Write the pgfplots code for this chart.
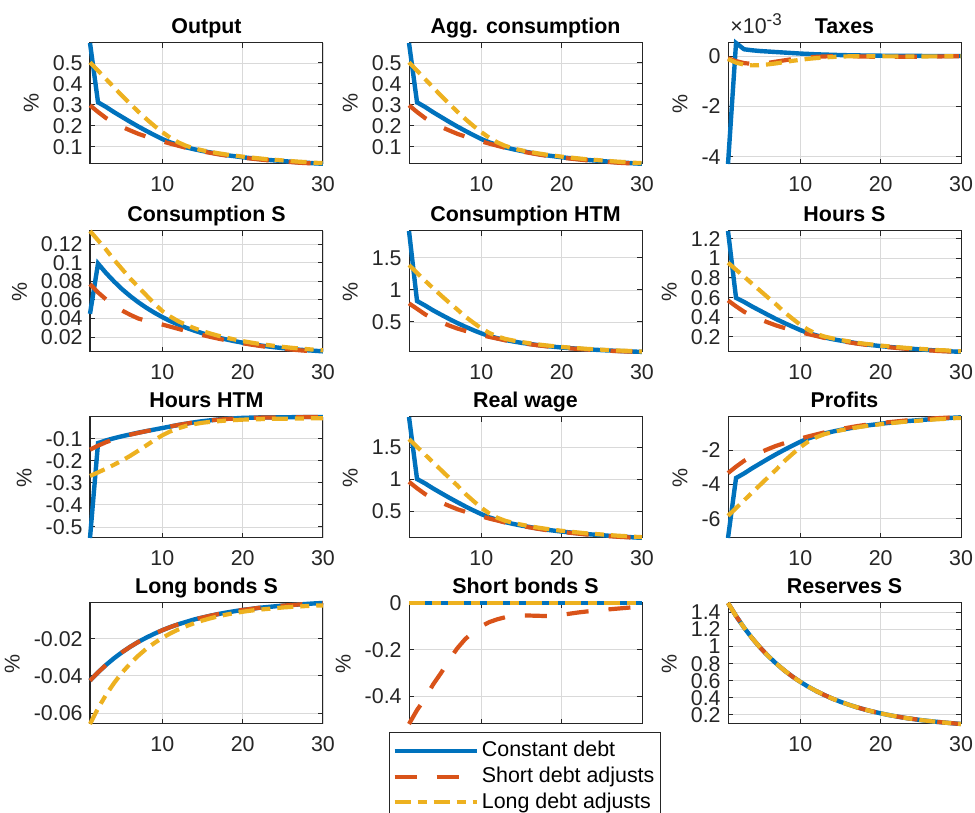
\documentclass[border=0pt]{standalone}
\usepackage{fontspec}
\setmainfont{Liberation Sans}
\usepackage{pgfplots}
\usepackage{pgfplotstable}
\pgfplotsset{compat=1.18}
\definecolor{mblue}{rgb}{0,0.447,0.741}
\definecolor{morange}{rgb}{0.85,0.325,0.098}
\definecolor{myellow}{rgb}{0.929,0.694,0.125}
\definecolor{axgray}{rgb}{0.15,0.15,0.15}
\newcommand{\tf}{\fontsize{10.7}{12.5}\selectfont}

\pgfplotstableread{
t b o y
1 0.595 0.298 0.503
2 0.312 0.266 0.463
3 0.290 0.237 0.423
4 0.265 0.214 0.383
5 0.242 0.195 0.343
6 0.219 0.178 0.305
7 0.197 0.162 0.268
8 0.176 0.149 0.233
9 0.156 0.137 0.200
10 0.137 0.126 0.170
11 0.121 0.115 0.143
12 0.108 0.105 0.121
13 0.097 0.095 0.104
14 0.088 0.086 0.092
15 0.080 0.078 0.083
16 0.073 0.071 0.076
17 0.066 0.064 0.069
18 0.060 0.058 0.063
19 0.055 0.053 0.058
20 0.050 0.048 0.053
21 0.046 0.044 0.049
22 0.042 0.040 0.045
23 0.038 0.036 0.041
24 0.035 0.033 0.038
25 0.032 0.030 0.035
26 0.029 0.027 0.032
27 0.026 0.024 0.029
28 0.024 0.022 0.027
29 0.021 0.020 0.024
30 0.019 0.018 0.022
}\tOut

\pgfplotstableread{
t b o y
1 -4.29 -0.09 -0.12
2 0.52 -0.20 -0.26
3 0.27 -0.28 -0.34
4 0.23 -0.31 -0.37
5 0.20 -0.30 -0.36
6 0.18 -0.27 -0.33
7 0.16 -0.22 -0.29
8 0.14 -0.17 -0.24
9 0.12 -0.12 -0.19
10 0.10 -0.08 -0.15
11 0.085 -0.05 -0.11
12 0.07 -0.03 -0.08
13 0.06 -0.015 -0.055
14 0.05 -0.005 -0.035
15 0.04 0.0 -0.02
16 0.033 -0.005 -0.01
17 0.027 -0.012 -0.006
18 0.022 -0.02 -0.006
19 0.018 -0.025 -0.008
20 0.015 -0.03 -0.01
21 0.012 -0.03 -0.012
22 0.010 -0.03 -0.013
23 0.008 -0.028 -0.014
24 0.006 -0.025 -0.014
25 0.005 -0.022 -0.014
26 0.004 -0.018 -0.013
27 0.003 -0.015 -0.012
28 0.002 -0.012 -0.011
29 0.002 -0.009 -0.010
30 0.001 -0.007 -0.009
}\tTax

\pgfplotstableread{
t b o y
1 0.045 0.077 0.134
2 0.0990 0.068 0.124
3 0.0888 0.0605 0.114
4 0.0797 0.054 0.103
5 0.0714 0.0485 0.093
6 0.0641 0.044 0.083
7 0.0575 0.040 0.074
8 0.0516 0.0375 0.065
9 0.0463 0.0355 0.056
10 0.0415 0.0335 0.048
11 0.0372 0.0312 0.042
12 0.0334 0.0288 0.037
13 0.0299 0.0265 0.033
14 0.0269 0.0243 0.0295
15 0.0241 0.0222 0.0265
16 0.0216 0.0202 0.0238
17 0.0194 0.0183 0.0214
18 0.0174 0.0165 0.0193
19 0.0156 0.0149 0.0174
20 0.0140 0.0134 0.0157
21 0.0126 0.0120 0.0142
22 0.0113 0.0107 0.0128
23 0.0101 0.0095 0.0116
24 0.0091 0.0085 0.0105
25 0.0081 0.0075 0.0095
26 0.0073 0.0067 0.0086
27 0.0065 0.0059 0.0078
28 0.0059 0.0052 0.0071
29 0.0053 0.0046 0.0064
30 0.0047 0.0040 0.0058
}\tCS

\pgfplotstableread{
t b o y
1 1.920 0.790 1.389
2 0.827 0.705 1.265
3 0.757 0.619 1.144
4 0.681 0.550 1.027
5 0.613 0.494 0.913
6 0.547 0.444 0.802
7 0.484 0.398 0.696
8 0.426 0.361 0.584
9 0.372 0.327 0.490
10 0.322 0.296 0.400
11 0.280 0.266 0.328
12 0.246 0.240 0.274
13 0.218 0.213 0.235
14 0.195 0.190 0.209
15 0.174 0.170 0.186
16 0.157 0.153 0.168
17 0.140 0.135 0.150
18 0.125 0.121 0.135
19 0.113 0.109 0.122
20 0.101 0.097 0.110
21 0.092 0.088 0.100
22 0.082 0.079 0.091
23 0.073 0.070 0.081
24 0.067 0.063 0.074
25 0.060 0.056 0.067
26 0.054 0.050 0.061
27 0.047 0.044 0.054
28 0.043 0.039 0.050
29 0.037 0.035 0.044
30 0.033 0.031 0.039
}\tCH

\pgfplotstableread{
t b o y
1 1.278 0.571 0.955
2 0.597 0.511 0.884
3 0.556 0.456 0.813
4 0.509 0.413 0.741
5 0.466 0.378 0.670
6 0.423 0.346 0.599
7 0.381 0.316 0.530
8 0.342 0.291 0.453
9 0.305 0.269 0.387
10 0.269 0.248 0.323
11 0.239 0.228 0.271
12 0.215 0.209 0.231
13 0.194 0.190 0.203
14 0.177 0.173 0.185
15 0.162 0.158 0.168
16 0.149 0.145 0.155
17 0.136 0.132 0.141
18 0.125 0.121 0.130
19 0.115 0.111 0.121
20 0.106 0.102 0.111
21 0.098 0.095 0.104
22 0.091 0.087 0.096
23 0.083 0.080 0.089
24 0.078 0.074 0.083
25 0.072 0.068 0.078
26 0.066 0.063 0.072
27 0.061 0.057 0.066
28 0.057 0.053 0.063
29 0.051 0.050 0.057
30 0.048 0.046 0.053
}\tHS

\pgfplotstableread{
t b o y
1 -0.550 -0.150 -0.269
2 -0.120 -0.132 -0.253
3 -0.108 -0.116 -0.236
4 -0.098 -0.103 -0.218
5 -0.089 -0.092 -0.199
6 -0.081 -0.082 -0.178
7 -0.073 -0.074 -0.155
8 -0.066 -0.066 -0.131
9 -0.059 -0.059 -0.107
10 -0.052 -0.052 -0.085
11 -0.045 -0.045 -0.067
12 -0.038 -0.038 -0.053
13 -0.032 -0.032 -0.042
14 -0.026 -0.026 -0.034
15 -0.021 -0.021 -0.028
16 -0.017 -0.017 -0.024
17 -0.013 -0.014 -0.021
18 -0.010 -0.011 -0.018
19 -0.008 -0.009 -0.016
20 -0.006 -0.007 -0.014
21 -0.005 -0.006 -0.013
22 -0.004 -0.005 -0.012
23 -0.004 -0.004 -0.011
24 -0.003 -0.004 -0.010
25 -0.003 -0.003 -0.010
26 -0.003 -0.003 -0.009
27 -0.002 -0.003 -0.009
28 -0.002 -0.002 -0.008
29 -0.002 -0.002 -0.008
30 -0.002 -0.002 -0.008
}\tHH

\pgfplotstableread{
t b o y
1 1.977 0.959 1.630
2 1.003 0.858 1.508
3 0.934 0.767 1.386
4 0.855 0.694 1.265
5 0.782 0.634 1.143
6 0.710 0.581 1.022
7 0.641 0.530 0.903
8 0.574 0.489 0.772
9 0.511 0.452 0.660
10 0.452 0.417 0.551
11 0.401 0.382 0.462
12 0.360 0.351 0.394
13 0.326 0.319 0.346
14 0.297 0.291 0.314
15 0.272 0.266 0.286
16 0.250 0.244 0.263
17 0.228 0.222 0.241
18 0.209 0.203 0.222
19 0.193 0.187 0.206
20 0.178 0.171 0.190
21 0.165 0.159 0.177
22 0.152 0.146 0.164
23 0.140 0.133 0.151
24 0.130 0.124 0.142
25 0.121 0.115 0.132
26 0.111 0.105 0.122
27 0.102 0.096 0.113
28 0.096 0.089 0.106
29 0.086 0.083 0.097
30 0.080 0.077 0.090
}\tRW

\pgfplotstableread{
t b o y
1 -7.120 -3.327 -5.826
2 -3.615 -2.952 -5.374
3 -3.349 -2.613 -4.921
4 -3.047 -2.344 -4.469
5 -2.768 -2.122 -4.017
6 -2.490 -1.923 -3.565
7 -2.224 -1.735 -3.124
8 -1.970 -1.583 -2.637
9 -1.728 -1.443 -2.220
10 -1.498 -1.314 -1.815
11 -1.304 -1.186 -1.482
12 -1.147 -1.069 -1.232
13 -1.014 -0.952 -1.054
14 -0.905 -0.846 -0.935
15 -0.808 -0.753 -0.828
16 -0.723 -0.671 -0.744
17 -0.639 -0.589 -0.661
18 -0.566 -0.519 -0.590
19 -0.506 -0.460 -0.530
20 -0.445 -0.402 -0.471
21 -0.397 -0.355 -0.423
22 -0.348 -0.308 -0.376
23 -0.300 -0.261 -0.328
24 -0.264 -0.226 -0.292
25 -0.227 -0.191 -0.257
26 -0.191 -0.156 -0.221
27 -0.155 -0.121 -0.185
28 -0.130 -0.097 -0.161
29 -0.094 -0.074 -0.126
30 -0.070 -0.051 -0.102
}\tPR

\pgfplotstableread{
t b o y
1 -0.0425 -0.0425 -0.0658
2 -0.0381 -0.0381 -0.0574
3 -0.0341 -0.0341 -0.0501
4 -0.0305 -0.0305 -0.0438
5 -0.0273 -0.0273 -0.0382
6 -0.0244 -0.0244 -0.0334
7 -0.0218 -0.0218 -0.0292
8 -0.0195 -0.0195 -0.0255
9 -0.0174 -0.0174 -0.0224
10 -0.0155 -0.0155 -0.0196
11 -0.0138 -0.0138 -0.0172
12 -0.0123 -0.0123 -0.0151
13 -0.0110 -0.0110 -0.0133
14 -0.0097 -0.0097 -0.0117
15 -0.0087 -0.0087 -0.0103
16 -0.0077 -0.0077 -0.0091
17 -0.0068 -0.0068 -0.0080
18 -0.0060 -0.0060 -0.0071
19 -0.0053 -0.0053 -0.0063
20 -0.0046 -0.0046 -0.0056
21 -0.0041 -0.0041 -0.0050
22 -0.0035 -0.0035 -0.0045
23 -0.0031 -0.0031 -0.0041
24 -0.0027 -0.0027 -0.0037
25 -0.0023 -0.0023 -0.0033
26 -0.0020 -0.0020 -0.0030
27 -0.0017 -0.0017 -0.0028
28 -0.0014 -0.0014 -0.0025
29 -0.0011 -0.0011 -0.0023
30 -0.0009 -0.0009 -0.0022
}\tLB

\pgfplotstableread{
t b o y
1 0 -0.520 0
2 0 -0.460 0
3 0 -0.410 0
4 0 -0.350 0
5 0 -0.300 0
6 0 -0.245 0
7 0 -0.195 0
8 0 -0.155 0
9 0 -0.125 0
10 0 -0.100 0
11 0 -0.082 0
12 0 -0.070 0
13 0 -0.061 0
14 0 -0.056 0
15 0 -0.054 0
16 0 -0.054 0
17 0 -0.055 0
18 0 -0.056 0
19 0 -0.055 0
20 0 -0.051 0
21 0 -0.046 0
22 0 -0.041 0
23 0 -0.037 0
24 0 -0.033 0
25 0 -0.030 0
26 0 -0.027 0
27 0 -0.024 0
28 0 -0.021 0
29 0 -0.018 0
30 0 -0.015 0
}\tSB

\pgfplotstableread{
t b o y
1 1.510 1.510 1.510
2 1.358 1.358 1.358
3 1.221 1.221 1.221
4 1.098 1.098 1.098
5 0.988 0.988 0.988
6 0.889 0.889 0.889
7 0.801 0.801 0.801
8 0.721 0.721 0.721
9 0.650 0.650 0.650
10 0.586 0.586 0.586
11 0.529 0.529 0.529
12 0.478 0.478 0.478
13 0.432 0.432 0.432
14 0.390 0.390 0.390
15 0.353 0.353 0.353
16 0.320 0.320 0.320
17 0.290 0.290 0.290
18 0.263 0.263 0.263
19 0.239 0.239 0.239
20 0.218 0.218 0.218
21 0.198 0.198 0.198
22 0.181 0.181 0.181
23 0.165 0.165 0.165
24 0.152 0.152 0.152
25 0.139 0.139 0.139
26 0.128 0.128 0.128
27 0.118 0.118 0.118
28 0.109 0.109 0.109
29 0.101 0.101 0.101
30 0.093 0.093 0.093
}\tRS

\pgfplotsset{
  panel/.style={
    scale only axis, width=116.5pt, height=60.5pt,
    anchor=south west,
    xmin=1, xmax=30, xtick={10,20,30},
    grid=major,
    major grid style={draw=black!15, line width=0.4pt},
    axis line style={draw=axgray, line width=0.5pt},
    tick style={draw=axgray, line width=0.5pt},
    major tick length=2.3pt,
    tick align=inside,
    ticklabel style={font=\tf, text=axgray},
    xticklabel style={yshift=-2.7pt},
    scaled y ticks=false, scaled x ticks=false,
    yticklabel style={/pgf/number format/fixed, /pgf/number format/precision=3, inner ysep=0.2pt, inner xsep=3.5pt, text depth=0pt},
    /pgf/number format/assume math mode=true,
    ylabel={\%}, ylabel style={font=\tf, text=axgray},
    every axis title/.style={at={(0.5,1)}, anchor=base, yshift=4.5pt, inner sep=0pt, font=\bfseries\tf, text=black},
    clip=false,
    legend image code/.code={\draw[##1] (0pt,0pt) -- (41pt,0pt);},
  },
  bl/.style={mblue, line width=2.2pt, solid},
  ol/.style={morange, line width=2.1pt, dash pattern=on 11pt off 10pt},
  yl/.style={myellow, line width=2.1pt, dash pattern=on 8pt off 3.5pt on 4.5pt off 3.5pt},
}

\begin{document}
\begin{tikzpicture}
% Row 1
\begin{axis}[panel, at={(45pt,324.5pt)}, title={Output}, ymin=0.018, ymax=0.595, ytick={0.1,0.2,0.3,0.4,0.5}]
\addplot[bl] table[x=t,y=b]{\tOut};
\addplot[ol] table[x=t,y=o]{\tOut};
\addplot[yl] table[x=t,y=y]{\tOut};
\end{axis}
\begin{axis}[panel, at={(204.5pt,324.5pt)}, title={Agg. consumption}, ymin=0.018, ymax=0.595, ytick={0.1,0.2,0.3,0.4,0.5}]
\addplot[bl] table[x=t,y=b]{\tOut};
\addplot[ol] table[x=t,y=o]{\tOut};
\addplot[yl] table[x=t,y=y]{\tOut};
\end{axis}
\begin{axis}[panel, at={(364pt,324.5pt)}, title={Taxes}, ymin=-4.29, ymax=0.52, ytick={-4,-2,0}]
\addplot[bl] table[x=t,y=b]{\tTax};
\addplot[ol] table[x=t,y=o]{\tTax};
\addplot[yl] table[x=t,y=y]{\tTax};
\node[anchor=base west, inner sep=0pt, font=\tf, text=axgray, yshift=4.5pt, xshift=1pt] at (rel axis cs:0,1) {×10\raisebox{4pt}{\fontsize{8.5}{9}\selectfont -3}};
\end{axis}
% Row 2
\begin{axis}[panel, at={(45pt,230.5pt)}, title={Consumption S}, ymin=0.004, ymax=0.134, ytick={0.02,0.04,0.06,0.08,0.1,0.12}]
\addplot[bl] table[x=t,y=b]{\tCS};
\addplot[ol] table[x=t,y=o]{\tCS};
\addplot[yl] table[x=t,y=y]{\tCS};
\end{axis}
\begin{axis}[panel, at={(204.5pt,230.5pt)}, title={Consumption HTM}, ymin=0.031, ymax=1.92, ytick={0.5,1,1.5}]
\addplot[bl] table[x=t,y=b]{\tCH};
\addplot[ol] table[x=t,y=o]{\tCH};
\addplot[yl] table[x=t,y=y]{\tCH};
\end{axis}
\begin{axis}[panel, at={(364pt,230.5pt)}, title={Hours S}, ymin=0.046, ymax=1.278, ytick={0.2,0.4,0.6,0.8,1,1.2}]
\addplot[bl] table[x=t,y=b]{\tHS};
\addplot[ol] table[x=t,y=o]{\tHS};
\addplot[yl] table[x=t,y=y]{\tHS};
\end{axis}
% Row 3
\begin{axis}[panel, at={(45pt,137.5pt)}, title={Hours HTM}, ymin=-0.55, ymax=-0.002, ytick={-0.5,-0.4,-0.3,-0.2,-0.1}]
\addplot[bl] table[x=t,y=b]{\tHH};
\addplot[ol] table[x=t,y=o]{\tHH};
\addplot[yl] table[x=t,y=y]{\tHH};
\end{axis}
\begin{axis}[panel, at={(204.5pt,137.5pt)}, title={Real wage}, ymin=0.077, ymax=1.977, ytick={0.5,1,1.5}]
\addplot[bl] table[x=t,y=b]{\tRW};
\addplot[ol] table[x=t,y=o]{\tRW};
\addplot[yl] table[x=t,y=y]{\tRW};
\end{axis}
\begin{axis}[panel, at={(364pt,137.5pt)}, title={Profits}, ymin=-7.12, ymax=-0.051, ytick={-6,-4,-2}]
\addplot[bl] table[x=t,y=b]{\tPR};
\addplot[ol] table[x=t,y=o]{\tPR};
\addplot[yl] table[x=t,y=y]{\tPR};
\end{axis}
% Row 4
\begin{axis}[panel, at={(45pt,44.5pt)}, title={Long bonds S}, ymin=-0.0658, ymax=-0.0009, ytick={-0.06,-0.04,-0.02}]
\addplot[bl] table[x=t,y=b]{\tLB};
\addplot[ol] table[x=t,y=o]{\tLB};
\addplot[yl] table[x=t,y=y]{\tLB};
\end{axis}
\begin{axis}[panel, at={(364pt,44.5pt)}, title={Reserves S}, ymin=0.093, ymax=1.51, ytick={0.2,0.4,0.6,0.8,1,1.2,1.4}]
\addplot[bl] table[x=t,y=b]{\tRS};
\addplot[ol] table[x=t,y=o]{\tRS};
\addplot[yl] table[x=t,y=y]{\tRS};
\end{axis}
\begin{axis}[panel, at={(204.5pt,44.5pt)}, title={Short bonds S}, ymin=-0.52, ymax=0, ytick={-0.4,-0.2,0},
  xticklabels={},
  legend style={at={(-0.0858,-0.066)}, anchor=north west, draw=axgray, line width=0.5pt, fill=white, font=\tf,
    inner xsep=1.5pt, inner ysep=3pt, nodes={inner sep=1.5pt, text depth=0.2em}},
  legend cell align=left]
\addplot[bl] table[x=t,y=b]{\tSB};
\addplot[ol] table[x=t,y=o]{\tSB};
\addplot[yl] table[x=t,y=y]{\tSB};
\addlegendentry{Constant debt}
\addlegendentry{Short debt adjusts}
\addlegendentry{Long debt adjusts}
\end{axis}
\pgfresetboundingbox
\path[use as bounding box] (0pt,0pt) rectangle (487.5pt,406.5pt);
\end{tikzpicture}
\end{document}
